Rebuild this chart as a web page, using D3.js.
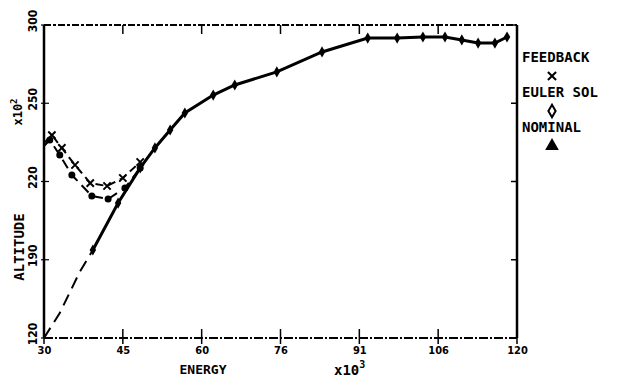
<!DOCTYPE html>
<html>
<head>
<meta charset="utf-8">
<script src="https://cdn.jsdelivr.net/npm/d3@7"></script>
<style>
  body { margin: 0; background: #fff; }
  text { font-family: "DejaVu Sans", sans-serif; font-weight: bold; fill: #000; }
</style>
</head>
<body>
<svg width="623" height="378"></svg>
<script>
// axis ticks and labels as printed on the plot
const xTicks = [30, 45, 60, 75, 90, 105, 120];
const xTickLabels = ['30', '45', '60', '76', '91', '106', '120'];
const yTicks = [120, 165, 210, 255, 300];
const yTickLabels = ['120', '190', '220', '250', '300'];

// nominal trajectory (energy x10^3, altitude x10^2)
const nominalX = [30, 33.0, 36.8, 39.3, 44.1, 48.3, 51.1, 54.0, 56.8, 62.2, 66.3, 74.3, 82.9, 91.6, 97.2, 102.1, 106.3, 109.5, 112.6, 115.8, 118.1];
const nominalY = [120, 134.4, 158.0, 170.6, 197.6, 217.8, 229.3, 239.6, 249.4, 259.7, 265.5, 273.0, 284.5, 292.5, 292.5, 293.1, 293.1, 291.4, 289.6, 289.6, 293.1];
const nominalDashedUntil = 3; // first part of the nominal curve is long-dashed

// feedback solution
const feedbackX = [30, 31.5, 33.4, 35.9, 38.8, 42.0, 45.0, 48.3];
const feedbackY = [232.1, 236.7, 229.3, 219.5, 209.1, 207.4, 212.0, 221.2];

// euler solution
const eulerX = [30, 31.1, 33.0, 35.3, 39.1, 42.2, 45.4, 48.3];
const eulerY = [230.4, 233.9, 225.2, 213.7, 201.7, 199.9, 206.3, 217.8];

const svg = d3.select('svg');
const margin = { top: 25, right: 106, bottom: 40, left: 44 };
const width = 623, height = 378;

const x = d3.scaleLinear().domain([30, 120]).range([margin.left, width - margin.right]);
const y = d3.scaleLinear().domain([120, 300]).range([height - margin.bottom, margin.top]);

const x0 = x(30), x1 = x(120), y0 = y(120), y1 = y(300);

// frame: left and right solid, top and bottom broken
svg.append('line').attr('x1', x0).attr('x2', x0).attr('y1', y1).attr('y2', y0)
  .attr('stroke', '#000').attr('stroke-width', 2.5);
svg.append('line').attr('x1', x1).attr('x2', x1).attr('y1', y1).attr('y2', y0)
  .attr('stroke', '#000').attr('stroke-width', 2.5);
svg.append('line').attr('x1', x0).attr('x2', x1).attr('y1', y1).attr('y2', y1)
  .attr('stroke', '#000').attr('stroke-width', 2).attr('stroke-dasharray', '7,2,3,2');
svg.append('line').attr('x1', x0).attr('x2', x1).attr('y1', y0).attr('y2', y0)
  .attr('stroke', '#000').attr('stroke-width', 2).attr('stroke-dasharray', '9,2,2,2');

// bottom axis
const xAxis = svg.append('g')
  .attr('transform', `translate(0,${y0})`)
  .call(d3.axisBottom(x).tickValues(xTicks).tickFormat((d, i) => xTickLabels[i]).tickSize(0).tickPadding(8));
xAxis.select('.domain').remove();
xAxis.selectAll('text').style('font-size', '11px').style('font-family', '"DejaVu Sans Condensed", sans-serif');

// tick marks crossing the bottom and top lines
xTicks.forEach(t => {
  svg.append('line').attr('x1', x(t)).attr('x2', x(t)).attr('y1', y0 - 9).attr('y2', y0 + 6)
    .attr('stroke', '#000').attr('stroke-width', 1.5);
  svg.append('line').attr('x1', x(t)).attr('x2', x(t)).attr('y1', y1).attr('y2', y1 + 9)
    .attr('stroke', '#000').attr('stroke-width', 1.5);
});

// left axis tick marks and rotated labels
yTicks.forEach((t, i) => {
  svg.append('line').attr('x1', x0 - 3).attr('x2', x0 + 5).attr('y1', y(t)).attr('y2', y(t))
    .attr('stroke', '#000').attr('stroke-width', 1.2);
  svg.append('line').attr('x1', x1 - 6).attr('x2', x1).attr('y1', y(t)).attr('y2', y(t))
    .attr('stroke', '#000').attr('stroke-width', 1.5);
  svg.append('text')
    .attr('transform', `translate(37,${y(t) - 4}) rotate(-90)`)
    .attr('text-anchor', 'middle')
    .style('font-size', '12px')
    .style('font-family', '"DejaVu Sans Condensed", sans-serif')
    .text(yTickLabels[i]);
});

// axis titles
svg.append('text')
  .attr('transform', 'translate(24,247) rotate(-90)')
  .attr('text-anchor', 'middle')
  .style('font-size', '14px')
  .style('font-family', '"DejaVu Sans Mono", monospace')
  .text('ALTITUDE');
const yMul = svg.append('text')
  .attr('transform', 'translate(22,112) rotate(-90)')
  .attr('text-anchor', 'middle')
  .style('font-size', '12px')
  .style('font-family', '"DejaVu Sans Mono", monospace');
yMul.append('tspan').text('x10');
yMul.append('tspan').attr('dy', -5).style('font-size', '9px').text('2');

svg.append('text')
  .attr('x', 203).attr('y', 374)
  .attr('text-anchor', 'middle')
  .style('font-size', '13px')
  .style('font-family', '"DejaVu Sans Mono", monospace')
  .text('ENERGY');
const xMul = svg.append('text')
  .attr('x', 334).attr('y', 375)
  .style('font-size', '14px')
  .style('font-family', '"DejaVu Sans Mono", monospace');
xMul.append('tspan').text('x10');
xMul.append('tspan').attr('dy', -7).style('font-size', '10px').text('3');

// curves
const line = d3.line().x(d => x(d[0])).y(d => y(d[1]));
const nominal = nominalX.map((v, i) => [v, nominalY[i]]);
const feedback = feedbackX.map((v, i) => [v, feedbackY[i]]);
const euler = eulerX.map((v, i) => [v, eulerY[i]]);

svg.append('path').datum(nominal.slice(0, nominalDashedUntil + 1))
  .attr('d', line).attr('fill', 'none').attr('stroke', '#000')
  .attr('stroke-width', 2).attr('stroke-dasharray', '12,7');
svg.append('path').datum(nominal.slice(nominalDashedUntil))
  .attr('d', line).attr('fill', 'none').attr('stroke', '#000')
  .attr('stroke-width', 3);

svg.append('path').datum(feedback)
  .attr('d', line)
  .attr('fill', 'none').attr('stroke', '#000')
  .attr('stroke-width', 2).attr('stroke-dasharray', '8,5');
svg.append('path').datum(euler)
  .attr('d', line).attr('fill', 'none').attr('stroke', '#000')
  .attr('stroke-width', 2).attr('stroke-dasharray', '10,6');

// markers
svg.selectAll('.nom').data(nominal.slice(nominalDashedUntil)).enter().append('path')
  .attr('transform', d => `translate(${x(d[0])},${y(d[1])})`)
  .attr('d', d3.symbol().type(d3.symbolDiamond).size(36))
  .attr('fill', '#000');
svg.selectAll('.fb').data(feedback.slice(1)).enter().append('path')
  .attr('transform', d => `translate(${x(d[0])},${y(d[1])})`)
  .attr('d', d3.symbol().type(d3.symbolX).size(36))
  .attr('fill', 'none').attr('stroke', '#000').attr('stroke-width', 2);
svg.selectAll('.eu').data(euler.slice(1)).enter().append('circle')
  .attr('cx', d => x(d[0])).attr('cy', d => y(d[1])).attr('r', 3.5)
  .attr('fill', '#000');

// legend at right
const legend = [
  { label: 'FEEDBACK', sym: d3.symbolX, fill: 'none' },
  { label: 'EULER SOL', sym: d3.symbolDiamond, fill: 'none' },
  { label: 'NOMINAL', sym: d3.symbolTriangle, fill: '#000' }
];
legend.forEach((l, i) => {
  const ly = 62 + i * 35;
  svg.append('text').attr('x', 522).attr('y', ly)
    .style('font-size', '14px')
    .style('font-family', '"DejaVu Sans Mono", monospace')
    .text(l.label);
  svg.append('path')
    .attr('transform', `translate(552,${ly + 14})`)
    .attr('d', d3.symbol().type(l.sym).size(45))
    .attr('fill', l.fill).attr('stroke', '#000').attr('stroke-width', 2);
});
</script>
</body>
</html>
